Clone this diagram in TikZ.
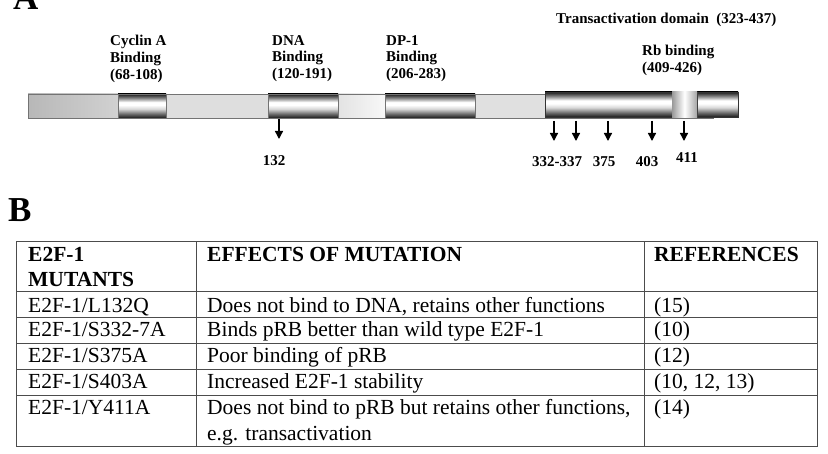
\documentclass[tikz,border=0pt]{standalone}
\usepackage{fontspec}
\setmainfont{Liberation Serif}
\usetikzlibrary{arrows.meta}

\pgfdeclareverticalshading{tube}{100bp}{color(0bp)=(black!90); color(25bp)=(black!90); color(33bp)=(black!60); color(44bp)=(black!15); color(52bp)=(white); color(58bp)=(white); color(66bp)=(black!45); color(75bp)=(black!90); color(100bp)=(black!90)}

\begin{document}
\begin{tikzpicture}
		[x=1pt,y=-1pt,line cap=butt,
		%Styles
		domain label/.style={anchor=north west,align=left,inner sep=0pt,font=\fontsize{15}{16.8}\selectfont\bfseries},
		site label/.style={anchor=base,inner sep=0pt,font=\fontsize{15}{16}\selectfont\bfseries},
		cell text/.style={anchor=base west,inner sep=0pt,font=\fontsize{21.5}{25}\selectfont},
		head text/.style={cell text,font=\fontsize{21.5}{25}\selectfont\bfseries},
		panel label/.style={anchor=base west,inner sep=0pt,font=\fontsize{35}{35}\selectfont\bfseries},
		mut arrow/.style={line width=1.4pt,-{Triangle[width=8pt,length=8pt]}},
		box edge/.style={draw=black!55,line width=0.6pt},
		cylinder/.style={shading=tube},
		grid line/.style={draw=black!70,line width=1pt}
		]
		\useasboundingbox (0,0) rectangle (828,454);
		
		%Panel A: the protein bar
		\shade[left color=black!28,right color=black!18] (28,94) rectangle (118,118);
		\fill[black!13] (166,94) rectangle (268,118);
		\shade[left color=black!11,right color=black!3] (338,94) rectangle (385,118);
		\fill[black!12] (475,94) rectangle (713,118);
		\draw[box edge] (28,94) rectangle (713,118);
		
		\shadedraw[cylinder,box edge] (118,94) rectangle (166,118);
		\shadedraw[cylinder,box edge] (268,94) rectangle (338,118);
		\shadedraw[cylinder,box edge] (385,94) rectangle (475,118);
		\shadedraw[cylinder,draw=black!80,line width=0.8pt] (545,92) rectangle (672,117);
		\shadedraw[cylinder,draw=black!80,line width=0.8pt] (697,92) rectangle (738,117);
		\shade[left color=black!40,right color=black!35,middle color=white] (672,92) rectangle (697,118);
		\draw[densely dashed,line width=1pt] (545,92) -- (672,92);
		
		\node[domain label] (cyclin) at (110,35) {Cyclin A\\Binding\\(68-108)};
		\node[domain label] (dna) at (272,35) {DNA\\Binding\\(120-191)};
		\node[domain label] (dp1) at (386,35) {DP-1\\Binding\\(206-283)};
		\node[domain label] (rb) at (642,45) {Rb binding\\(409-426)};
		\node[site label,anchor=base west] (trans) at (556,24) {Transactivation domain~~(323-437)};
		
		%Mutation sites
		\coordinate (s132) at (279,119);
		\coordinate (e132) at (279,139);
		\draw[mut arrow] (s132) -- (e132);
		\foreach \n/\x in {332/554,337/576,375/608,403/652,411/684}{
			\coordinate (s\n) at (\x,121);
			\coordinate (e\n) at (\x,141);
			\draw[mut arrow] (s\n) -- (e\n);
		}
		\node[site label] (l132) at (274,166) {132};
		\node[site label] (l332) at (557,167) {332-337};
		\node[site label] (l375) at (604,167) {375};
		\node[site label] (l403) at (647,167) {403};
		\node[site label] (l411) at (687,163) {411};
		
		%Panel B: the table
		\draw[grid line] (16,242) rectangle (817,447);
		\foreach \y in {292,318,344,370,396}
			\draw[grid line] (16,\y) -- (817,\y);
		\foreach \x in {196,644}
			\draw[grid line] (\x,242) -- (\x,447);
		
		\node[head text] (hmut) at (28,262) {E2F-1};
		\node[head text] (hmut2) at (28,287) {MUTANTS};
		\node[head text] (heff) at (207,262) {EFFECTS OF MUTATION};
		\node[head text] (href) at (654,262) {REFERENCES};
		
		\node[cell text] (m1) at (28,313) {E2F-1/L132Q};
		\node[cell text] (f1) at (207,313) {Does not bind to DNA, retains other functions};
		\node[cell text] (r1) at (654,313) {(15)};
		\node[cell text] (m2) at (28,337) {E2F-1/S332-7A};
		\node[cell text] (f2) at (207,337) {Binds pRB better than wild type E2F-1};
		\node[cell text] (r2) at (654,337) {(10)};
		\node[cell text] (m3) at (28,363) {E2F-1/S375A};
		\node[cell text] (f3) at (207,363) {Poor binding of pRB};
		\node[cell text] (r3) at (654,363) {(12)};
		\node[cell text] (m4) at (28,389) {E2F-1/S403A};
		\node[cell text] (f4) at (207,389) {Increased E2F-1 stability};
		\node[cell text] (r4) at (654,389) {(10, 12, 13)};
		\node[cell text] (m5) at (28,415) {E2F-1/Y411A};
		\node[cell text] (f5) at (207,415) {Does not bind to pRB but retains other functions,};
		\node[cell text] (f5b) at (207,440) {e.g. transactivation};
		\node[cell text] (r5) at (654,415) {(14)};
		
		\node[panel label] (pa) at (13,10) {A};
		\node[panel label] (pb) at (8,222) {B};
	\end{tikzpicture}
\end{document}
